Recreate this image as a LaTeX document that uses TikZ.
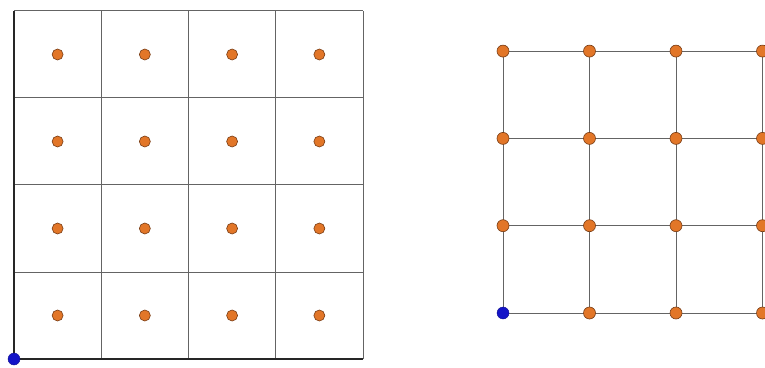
\documentclass[tikz,border=0pt]{standalone}
\usepackage{tikz}
\usetikzlibrary{positioning}
\definecolor{GridGray}{RGB}{100,100,100}
\definecolor{DotOrange}{RGB}{226,118,40}
\definecolor{DotRim}{RGB}{120,60,20}
\definecolor{DotBlue}{RGB}{20,20,200}
\tikzset{
  cellline/.style={GridGray, line width=1pt},
  axisline/.style={black!85, line width=1.4pt},
  pt/.style={circle, fill=DotOrange, draw=DotRim, line width=0.6pt, inner sep=0pt, minimum size=#1},
  pt/.default=11pt,
  origin/.style={circle, fill=DotBlue, draw=DotBlue!70!black, line width=0.4pt, inner sep=0pt, minimum size=12pt}
}
\begin{document}
\begin{tikzpicture}[x=1pt,y=1pt]
  \path[use as bounding box] (0,0) rectangle (765,367);
  \fill[white] (0,0) rectangle (765,367);

  % Left: cells with a point in each centre
  \foreach \i in {0,...,4}{
    \coordinate (lb\i) at ({14+87.25*\i},8);
    \coordinate (lt\i) at ({14+87.25*\i},356);
    \coordinate (ll\i) at (14,{8+87*\i});
    \coordinate (lr\i) at (363,{8+87*\i});
  }
  \foreach \i in {1,...,4}{
    \draw[cellline] (lb\i) -- (lt\i);
    \draw[cellline] (ll\i) -- (lr\i);
  }
  \draw[axisline] (lt0) -- (lb0) -- (lb4);
  \foreach \c in {0,...,3}{
    \foreach \r in {0,...,3}{
      \node[pt] (c\c\r) at ({14+87.25*\c+43.6},{8+87*\r+43.5}) {};
    }
  }
  \node[origin] (lo) at (lb0) {};

  % Right: points on the grid nodes
  \foreach \c in {0,...,3}{
    \foreach \r in {0,...,3}{
      \coordinate (g\c\r) at ({503+86.5*\c},{54+87.3*\r});
    }
  }
  \foreach \k in {0,...,3}{
    \draw[cellline] (g0\k) -- (g3\k);
    \draw[cellline] (g\k0) -- (g\k3);
  }
  \foreach \c in {0,...,3}{
    \foreach \r in {0,...,3}{
      \ifnum\c\r=0 \else
        \node[pt=12pt] (p\c\r) at (g\c\r) {};
      \fi
    }
  }
  \node[origin] (ro) at (g00) {};
\end{tikzpicture}
\end{document}
